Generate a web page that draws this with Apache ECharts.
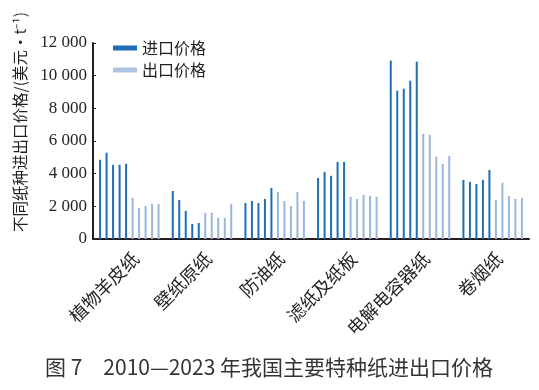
<!DOCTYPE html>
<html>
<head>
<meta charset="utf-8">
<script src="https://cdn.jsdelivr.net/npm/echarts@6/dist/echarts.min.js"></script>
<style>html,body{margin:0;padding:0;background:#fff}#c{width:539px;height:390px}</style>
</head>
<body>
<div id="c"></div>
<script>
var categories = ['植物羊皮纸', '壁纸原纸', '防油纸', '滤纸及纸板', '电解电容器纸', '卷烟纸'];
var yTicks = [0, 2000, 4000, 6000, 8000, 10000, 12000];
// import prices (5 bars per category)
var importPrices = [
  [4850, 5280, 4540, 4540, 4600],
  [2940, 2390, 1720, 920, 980],
  [2200, 2330, 2200, 2450, 3130],
  [3740, 4110, 3870, 4720, 4720],
  [10920, 9080, 9200, 9690, 10860],
  [3620, 3500, 3370, 3620, 4230]
];
// export prices (5 bars per category)
var exportPrices = [
  [2520, 1900, 2020, 2150, 2150],
  [1600, 1600, 1290, 1290, 2150],
  [2880, 2330, 2020, 2880, 2330],
  [2580, 2450, 2700, 2640, 2580],
  [6440, 6380, 5030, 4600, 5090],
  [2390, 3440, 2640, 2450, 2520]
];
var importName = '进口价格';
var exportName = '出口价格';

var darkBlue = '#1f6db6';
var lightBlue = '#98b6dc';

var series = [];
for (var i = 0; i < 5; i++) {
  series.push({
    name: importName, type: 'bar', barWidth: 2, barGap: '225%',
    itemStyle: { color: darkBlue },
    data: importPrices.map(function (r) { return r[i]; })
  });
}
for (var j = 0; j < 5; j++) {
  series.push({
    name: exportName, type: 'bar', barWidth: 2, barGap: '225%',
    itemStyle: { color: lightBlue },
    data: exportPrices.map(function (r) { return r[j]; })
  });
}

var chart = echarts.init(document.getElementById('c'), null, { renderer: 'canvas' });
chart.setOption({
  animation: false,
  backgroundColor: '#fff',
  grid: { left: 93, right: 10, top: 43, bottom: 151, containLabel: false },
  legend: {
    orient: 'vertical', left: 108, top: 35,
    itemWidth: 24, itemHeight: 5, itemGap: 6, itemTextGap: 7,
    icon: 'rect',
    data: [
      { name: importName, itemStyle: { color: darkBlue } },
      { name: exportName, itemStyle: { color: '#adc3e0' } }
    ],
    textStyle: { fontFamily: 'Noto Sans CJK SC', fontSize: 16, color: '#231f20' }
  },
  xAxis: {
    type: 'category', data: categories,
    axisLine: { show: true, lineStyle: { color: '#231f20', width: 2 } },
    axisTick: { show: false },
    axisLabel: {
      rotate: 45, interval: 0, margin: 10, verticalAlign: 'top',
      fontFamily: 'Noto Sans CJK SC', fontSize: 18, color: '#231f20'
    }
  },
  yAxis: {
    type: 'value', min: yTicks[0], max: yTicks[yTicks.length - 1], interval: 2000,
    axisLine: { show: true, lineStyle: { color: '#231f20', width: 2 } },
    axisTick: { show: true, inside: true, length: 3, lineStyle: { color: '#231f20' } },
    splitLine: { show: false },
    axisLabel: {
      margin: 6, fontFamily: 'Liberation Serif', fontSize: 17, color: '#231f20',
      formatter: function (v) { return String(v).replace(/\B(?=(\d{3})+(?!\d))/g, ' '); }
    }
  },
  graphic: [
    {
      type: 'text', x: 20, y: 122, rotation: Math.PI / 2,
      style: {
        text: '不同纸种进出口价格/(美元・t⁻¹)',
        fontFamily: 'Noto Sans CJK SC', fontSize: 15.5, fill: '#231f20',
        align: 'center', verticalAlign: 'middle'
      }
    },
    {
      type: 'text', x: 269, y: 367,
      style: {
        text: '图 7　2010—2023 年我国主要特种纸进出口价格',
        fontFamily: 'Noto Sans CJK SC', fontSize: 21, fill: '#333333',
        align: 'center', verticalAlign: 'middle'
      }
    }
  ],
  series: series
});
</script>
</body>
</html>
